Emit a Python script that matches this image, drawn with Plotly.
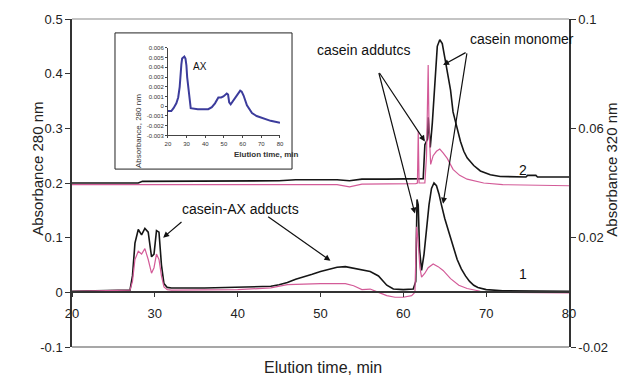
import plotly.graph_objects as go

# ---------------- data ----------------
# curve 1, absorbance 280 nm (left axis)
t_b1 = [20, 25, 27, 27.3, 27.6, 28.0, 28.4, 28.8, 29.2, 29.6, 29.9, 30.2, 30.5, 30.8, 31.1, 31.5, 32,
        36, 40, 44, 45, 46, 47, 48, 49, 50, 51, 52, 53, 54, 55, 56, 57, 57.5, 58, 58.8, 60, 61.2,
        61.5, 61.65, 61.8, 61.95, 62.2, 62.5, 62.8, 63.1, 63.4, 63.7, 64.0, 64.3, 64.6, 65.0, 65.5,
        66.0, 66.5, 67.0, 67.5, 68.0, 68.5, 69.0, 70.0, 72.0, 80.0]
v_b1 = [0.002, 0.003, 0.004, 0.03, 0.09, 0.115, 0.105, 0.117, 0.11, 0.065, 0.07, 0.113, 0.11, 0.05,
        0.016, 0.009, 0.008, 0.008, 0.009, 0.011, 0.014, 0.018, 0.024, 0.028, 0.033, 0.038, 0.042,
        0.046, 0.047, 0.044, 0.042, 0.038, 0.03, 0.022, 0.013, 0.006, 0.005, 0.006,
        0.02, 0.17, 0.16, 0.08, 0.04, 0.07, 0.12, 0.16, 0.19, 0.2, 0.195, 0.18, 0.16, 0.135, 0.11,
        0.085, 0.06, 0.043, 0.03, 0.02, 0.013, 0.009, 0.005, 0.003, 0.002]

# curve 1, absorbance 320 nm (right axis)
t_p1 = [20, 27, 27.3, 27.6, 28.0, 28.4, 28.8, 29.2, 29.6, 29.9, 30.2, 30.5, 30.8, 31.1, 31.5, 32,
        40, 44, 46, 50, 53, 54, 55, 56, 57, 58, 59, 60, 61, 61.4, 61.6, 61.8, 62.0, 62.2, 62.6,
        63.0, 63.6, 64.2, 64.8, 65.7, 66.7, 67.7, 69.3, 72, 80]
v_p1 = [0.0004, 0.0008, 0.004, 0.012, 0.015, 0.014, 0.016, 0.012, 0.007, 0.009, 0.014, 0.012,
        0.006, 0.002, 0.001, 0.0008, 0.001, 0.0016, 0.0028, 0.0032, 0.0032, 0.0024, 0.001, 0.0012,
        0.0, -0.0012, -0.0018, -0.0018, -0.0012, 0.0, 0.024, 0.018, 0.009, 0.0056, 0.007, 0.009,
        0.0104, 0.0094, 0.008, 0.005, 0.0026, 0.0014, 0.0004, 0.0, -0.0002]

# curve 2, absorbance 280 nm (left axis)
t_b2 = [20, 28, 28.5, 32, 40, 45, 47, 52, 53.5, 55, 58, 61, 62.4, 62.6, 62.9, 63.0, 63.1, 63.25,
        63.5, 63.8, 64.1, 64.4, 64.7, 65.0, 65.3, 65.7, 66.0, 66.5, 66.9, 67.3, 67.7, 68.5, 69.3,
        70.5, 71.7, 74.8, 75, 76, 76.2, 80]
v_b2 = [0.200, 0.200, 0.203, 0.203, 0.203, 0.204, 0.206, 0.206, 0.204, 0.207, 0.207, 0.207, 0.208,
        0.27, 0.28, 0.32, 0.30, 0.265, 0.31, 0.39, 0.45, 0.462, 0.455, 0.43, 0.404, 0.37, 0.33,
        0.30, 0.276, 0.258, 0.246, 0.232, 0.222, 0.215, 0.212, 0.211, 0.214, 0.214, 0.211, 0.211]

# curve 2, absorbance 320 nm (right axis)
t_p2 = [20, 28, 45, 52, 53.5, 55, 61.5, 61.7, 61.8, 61.9, 62.6, 62.8, 63.0, 63.1, 63.3, 63.6, 64.0,
        64.4, 64.8, 65.3, 66.0, 66.8, 67.7, 69.7, 72, 80]
v_p2 = [0.0394, 0.0394, 0.0396, 0.0394, 0.0386, 0.0396, 0.0398, 0.040, 0.059, 0.040, 0.040, 0.050,
        0.0832, 0.060, 0.0468, 0.050, 0.0516, 0.0524, 0.051, 0.049, 0.045, 0.0428, 0.0414, 0.040,
        0.0394, 0.039]

# inset: AX alone, absorbance 280 nm
t_ax = [20, 21.8, 23, 24.5, 25.5, 26.3, 27.2, 27.6, 28.2, 28.8, 29.4, 29.9, 30.3, 30.8, 31.4, 32.2,
        36, 41.6, 43.5, 45.2, 47, 48.5, 49.7, 51.5, 52.2, 52.8, 53.6, 55.1, 57, 58.7, 59.5, 60.5,
        62.3, 65, 67.5, 70.5, 75, 80]
v_ax = [-0.0005, -0.0005, -0.0002, 0.0003, 0.0009, 0.002, 0.0043, 0.0049, 0.005, 0.0051, 0.0049,
        0.0042, 0.003, 0.0023, 0.0012, -0.0002, -0.0003, -0.0003, -0.0001, 0.0003, 0.0009, 0.0009,
        0.001, 0.0013, 0.0012, 0.0004, 0.0002, 0.0006, 0.0011, 0.0016, 0.0015, 0.0011, 0.0001,
        -0.0007, -0.001, -0.0012, -0.0015, -0.0017]

x_ticks = [20, 30, 40, 50, 60, 70, 80]
x_ticktext = ["20", "30", "40", "50", "60", "70", "80"]
y1_ticks = [-0.1, 0, 0.1, 0.2, 0.3, 0.4, 0.5]
y1_ticktext = ["-0.1", "0", "0.1", "0.2", "0.3", "0.4", "0.5"]
y2_ticks = [-0.02, 0.02, 0.06, 0.1]
y2_ticktext = ["-0.02", "0.02", "0.06", "0.1"]
ins_x_ticks = [20, 30, 40, 50, 60, 70, 80]
ins_y_ticks = [-0.003, -0.002, -0.001, 0, 0.001, 0.002, 0.003, 0.004, 0.005, 0.006]
ins_y_ticktext = ["-0.003", "-0.002", "-0.001", "0", "0.001", "0.002", "0.003", "0.004", "0.005", "0.006"]

# ---------------- figure ----------------
FONT = "Liberation Sans, Arial, sans-serif"
BLACK = "#161616"
PINK = "#d35b98"

fig = go.Figure()
fig.add_trace(go.Scatter(x=t_p1, y=v_p1, yaxis="y2", mode="lines",
                         line=dict(color=PINK, width=1.2), showlegend=False))
fig.add_trace(go.Scatter(x=t_p2, y=v_p2, yaxis="y2", mode="lines",
                         line=dict(color=PINK, width=1.2), showlegend=False))
fig.add_trace(go.Scatter(x=t_b1, y=v_b1, mode="lines",
                         line=dict(color=BLACK, width=1.6), showlegend=False))
fig.add_trace(go.Scatter(x=t_b2, y=v_b2, mode="lines",
                         line=dict(color=BLACK, width=1.6), showlegend=False))
fig.add_trace(go.Scatter(x=t_ax, y=v_ax, xaxis="x3", yaxis="y3", mode="lines",
                         line=dict(color="#3c3c9c", width=2), showlegend=False))

tickfont = dict(family=FONT, size=13, color="#222")
small = dict(family=FONT, size=6, color="#333")

fig.update_layout(
    width=639, height=385,
    margin=dict(l=72, r=70, t=17, b=38),
    paper_bgcolor="white", plot_bgcolor="white",
    xaxis=dict(range=[20, 80], tickvals=x_ticks, ticktext=x_ticktext, anchor="free",
               position=1/6, showline=True, linecolor="#333", linewidth=1.5,
               ticks="outside", ticklen=4, tickcolor="#333", showgrid=False, zeroline=False,
               tickfont=tickfont, ticklabelstandoff=5),
    yaxis=dict(range=[-0.1, 0.5], tickvals=y1_ticks, ticktext=y1_ticktext, showline=True,
               linecolor="#333", linewidth=1.5, ticks="outside", ticklen=5, tickcolor="#333",
               showgrid=False, zeroline=False, tickfont=tickfont),
    yaxis2=dict(range=[-0.02, 0.1], tickvals=y2_ticks, ticktext=y2_ticktext, overlaying="y",
                side="right", showline=True, linecolor="#333", linewidth=1.5, ticks="outside",
                ticklen=5, tickcolor="#333", showgrid=False, zeroline=False, tickfont=tickfont),
    xaxis3=dict(domain=[0.193, 0.4185], anchor="y3", range=[20, 80], tickvals=ins_x_ticks,
                showline=True, linecolor="#444", linewidth=1, ticks="outside", ticklen=2,
                tickcolor="#444", showgrid=False, zeroline=False, tickfont=small,
                ticklabelstandoff=0),
    yaxis3=dict(domain=[0.645, 0.912], anchor="x3", range=[-0.003, 0.006],
                tickvals=ins_y_ticks, ticktext=ins_y_ticktext, showline=True, linecolor="#444",
                linewidth=1, ticks="outside", ticklen=2, tickcolor="#444", showgrid=False,
                zeroline=False, tickfont=small),
)

# frame lines (top / bottom) and inset box
fig.add_shape(type="line", xref="paper", yref="paper", x0=0, x1=1, y0=0, y1=0,
              line=dict(color="#8a8a8a", width=1.5))
fig.add_shape(type="line", xref="paper", yref="paper", x0=0, x1=1, y0=1, y1=1,
              line=dict(color="#8a8a8a", width=1.2))
fig.add_shape(type="rect", xref="paper", yref="paper", x0=0.0865, x1=0.4427, y0=0.5424,
              y1=0.9576, line=dict(color="#222", width=1), fillcolor="white", layer="below")

annot_font = dict(family=FONT, size=14, color="#111")
def label(text, x, y, font=annot_font, **kw):
    fig.add_annotation(text=text, x=x, y=y, showarrow=False, font=font, **kw)

def arrow(x0, y0, x1, y1):
    fig.add_annotation(x=x1, y=y1, ax=x0, ay=y0, xref="x", yref="y", axref="x", ayref="y",
                       text="", showarrow=True, arrowhead=2, arrowsize=1, arrowwidth=1.2,
                       arrowcolor="#111")

label("casein-AX adducts", 40.3, 0.153)
arrow(33.4, 0.131, 31.0, 0.100)
arrow(43.5, 0.140, 51.2, 0.058)
label("casein addutcs", 55.2, 0.444)
arrow(57.0, 0.404, 62.6, 0.276)
arrow(57.0, 0.404, 61.4, 0.144)
label("casein monomer", 74.3, 0.464)
arrow(67.7, 0.44, 64.8, 0.416)
arrow(67.7, 0.44, 64.8, 0.162)
label("2", 74.5, 0.223)
label("1", 74.5, 0.034)
fig.add_annotation(text="AX", x=37.1, y=0.0041, xref="x3", yref="y3", showarrow=False,
                   font=dict(family=FONT, size=10, color="#111"))

# axis titles
label("Absorbance 280 nm", -0.0905, 0.542, font=dict(family=FONT, size=15, color="#222"),
      xref="paper", yref="paper", textangle=-90)
label("Absorbance 320 nm", 1.1066, 0.542, font=dict(family=FONT, size=15, color="#222"),
      xref="paper", yref="paper", textangle=-90)
label("Elution time, min", 0.505, -0.094, font=dict(family=FONT, size=16, color="#222"),
      xref="paper", yref="paper")
label("Absorbance, 280 nm", 0.1207, 0.779, font=dict(family=FONT, size=8, color="#333"),
      xref="paper", yref="paper", textangle=-90)
label("<b>Elution time, min</b>", 0.322, 0.588, font=dict(family=FONT, size=8, color="#333"),
      xref="paper", yref="paper")

fig.write_html("out.html")
